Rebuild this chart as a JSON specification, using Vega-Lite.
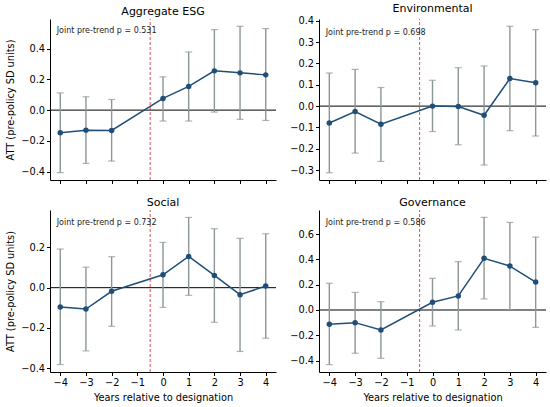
{
  "$schema": "https://vega.github.io/schema/vega-lite/v6.json",
  "padding": {"left": 5, "top": 2, "right": 3, "bottom": 3},
  "datasets": {
    "est": [
      {"panel": "Aggregate ESG", "year": -4, "att": -0.147, "lo": -0.406, "hi": 0.112},
      {"panel": "Aggregate ESG", "year": -3, "att": -0.13, "lo": -0.346, "hi": 0.087},
      {"panel": "Aggregate ESG", "year": -2, "att": -0.132, "lo": -0.331, "hi": 0.069},
      {"panel": "Aggregate ESG", "year": 0, "att": 0.076, "lo": -0.071, "hi": 0.216},
      {"panel": "Aggregate ESG", "year": 1, "att": 0.154, "lo": -0.071, "hi": 0.378},
      {"panel": "Aggregate ESG", "year": 2, "att": 0.255, "lo": -0.013, "hi": 0.523},
      {"panel": "Aggregate ESG", "year": 3, "att": 0.242, "lo": -0.06, "hi": 0.545},
      {"panel": "Aggregate ESG", "year": 4, "att": 0.229, "lo": -0.067, "hi": 0.53},
      {"panel": "Environmental", "year": -4, "att": -0.079, "lo": -0.312, "hi": 0.155},
      {"panel": "Environmental", "year": -3, "att": -0.025, "lo": -0.22, "hi": 0.172},
      {"panel": "Environmental", "year": -2, "att": -0.085, "lo": -0.259, "hi": 0.087},
      {"panel": "Environmental", "year": 0, "att": 0.0, "lo": -0.119, "hi": 0.121},
      {"panel": "Environmental", "year": 1, "att": -0.002, "lo": -0.181, "hi": 0.18},
      {"panel": "Environmental", "year": 2, "att": -0.043, "lo": -0.276, "hi": 0.188},
      {"panel": "Environmental", "year": 3, "att": 0.129, "lo": -0.115, "hi": 0.374},
      {"panel": "Environmental", "year": 4, "att": 0.109, "lo": -0.14, "hi": 0.358},
      {"panel": "Social", "year": -4, "att": -0.096, "lo": -0.382, "hi": 0.192},
      {"panel": "Social", "year": -3, "att": -0.106, "lo": -0.314, "hi": 0.102},
      {"panel": "Social", "year": -2, "att": -0.018, "lo": -0.192, "hi": 0.154},
      {"panel": "Social", "year": 0, "att": 0.064, "lo": -0.098, "hi": 0.225},
      {"panel": "Social", "year": 1, "att": 0.155, "lo": -0.038, "hi": 0.349},
      {"panel": "Social", "year": 2, "att": 0.061, "lo": -0.172, "hi": 0.293},
      {"panel": "Social", "year": 3, "att": -0.035, "lo": -0.317, "hi": 0.245},
      {"panel": "Social", "year": 4, "att": 0.008, "lo": -0.251, "hi": 0.268},
      {"panel": "Governance", "year": -4, "att": -0.113, "lo": -0.432, "hi": 0.211},
      {"panel": "Governance", "year": -3, "att": -0.1, "lo": -0.342, "hi": 0.139},
      {"panel": "Governance", "year": -2, "att": -0.158, "lo": -0.382, "hi": 0.066},
      {"panel": "Governance", "year": 0, "att": 0.061, "lo": -0.126, "hi": 0.25},
      {"panel": "Governance", "year": 1, "att": 0.111, "lo": -0.158, "hi": 0.382},
      {"panel": "Governance", "year": 2, "att": 0.408, "lo": 0.087, "hi": 0.732},
      {"panel": "Governance", "year": 3, "att": 0.347, "lo": 0.003, "hi": 0.692},
      {"panel": "Governance", "year": 4, "att": 0.221, "lo": -0.137, "hi": 0.576}
    ]
  },
  "config": {
    "font": "DejaVu Sans",
    "view": {"stroke": null},
    "axis": {
      "grid": false,
      "domainColor": "#000",
      "tickColor": "#000",
      "tickSize": 3.5,
      "labelFontSize": 9.8,
      "labelColor": "#000",
      "labelPadding": 2,
      "labelOverlap": false,
      "titleFontSize": 9.8,
      "titleFontWeight": "normal",
      "titleColor": "#000"
    },
    "axisX": {"titlePadding": 5},
    "axisY": {"titlePadding": 5.5},
    "title": {"fontSize": 11, "fontWeight": "normal", "color": "#000", "offset": 2, "frame": "group"}
  },
  "spacing": 12,
  "vconcat": [
    {
      "spacing": 12,
      "hconcat": [
        {
          "width": 226, "height": 161,
          "title": {"text": "Aggregate ESG", "frame": "group"},
          "data": {"name": "est"},
          "transform": [{"filter": "datum.panel === 'Aggregate ESG'"}],
          "encoding": {
            "x": {"field": "year", "type": "quantitative", "scale": {"domain": [-4.4, 4.4], "nice": false, "zero": false},
              "axis": {"values": [-4, -3, -2, -1, 0, 1, 2, 3, 4], "labels": false, "title": null}},
            "y": {"field": "att", "type": "quantitative", "scale": {"domain": [-0.454, 0.592], "nice": false, "zero": false},
              "axis": {"values": [-0.4, -0.2, 0, 0.2, 0.4], "format": ".1f", "title": "ATT (pre-policy SD units)"}}
          },
          "layer": [
            {"transform": [{"filter": "datum.year === 0"}],
              "mark": {"type": "rule", "color": "#d9534f", "strokeDash": [3, 2], "strokeWidth": 1},
              "encoding": {"x": {"datum": -0.5, "type": "quantitative"}, "y": {"datum": -0.454, "type": "quantitative"}, "y2": {"datum": 0.592}}},
            {"transform": [{"filter": "datum.year === 0"}],
              "mark": {"type": "rule", "color": "#000", "strokeWidth": 1},
              "encoding": {"x": {"datum": -4.4, "type": "quantitative"}, "x2": {"datum": 4.4}, "y": {"datum": 0, "type": "quantitative"}}},
            {"mark": {"type": "errorbar", "color": "#8c9696", "thickness": 1.4, "ticks": {"size": 7, "thickness": 1.2}},
              "encoding": {"y": {"field": "lo", "type": "quantitative", "title": "ATT (pre-policy SD units)"}, "y2": {"field": "hi"}}},
            {"mark": {"type": "line", "color": "#1f4e79", "strokeWidth": 1.5, "point": {"filled": true, "size": 30, "color": "#1f4e79"}}},
            {"transform": [{"filter": "datum.year === 0"}],
              "mark": {"type": "text", "align": "left", "baseline": "middle", "fontSize": 8, "color": "#222"},
              "encoding": {"x": {"datum": -4.14, "type": "quantitative"}, "y": {"datum": 0.511, "type": "quantitative"}, "text": {"value": "Joint pre-trend p = 0.531"}}}
          ]
        },
        {
          "width": 227, "height": 161,
          "title": {"text": "Environmental", "frame": "group"},
          "data": {"name": "est"},
          "transform": [{"filter": "datum.panel === 'Environmental'"}],
          "encoding": {
            "x": {"field": "year", "type": "quantitative", "scale": {"domain": [-4.4, 4.4], "nice": false, "zero": false},
              "axis": {"values": [-4, -3, -2, -1, 0, 1, 2, 3, 4], "labels": false, "title": null}},
            "y": {"field": "att", "type": "quantitative", "scale": {"domain": [-0.346, 0.408], "nice": false, "zero": false},
              "axis": {"values": [-0.3, -0.2, -0.1, 0, 0.1, 0.2, 0.3, 0.4], "format": ".1f", "title": null}}
          },
          "layer": [
            {"transform": [{"filter": "datum.year === 0"}],
              "mark": {"type": "rule", "color": "#d9534f", "strokeDash": [3, 2], "strokeWidth": 1},
              "encoding": {"x": {"datum": -0.5, "type": "quantitative"}, "y": {"datum": -0.346, "type": "quantitative"}, "y2": {"datum": 0.408}}},
            {"transform": [{"filter": "datum.year === 0"}],
              "mark": {"type": "rule", "color": "#000", "strokeWidth": 1},
              "encoding": {"x": {"datum": -4.4, "type": "quantitative"}, "x2": {"datum": 4.4}, "y": {"datum": 0, "type": "quantitative"}}},
            {"mark": {"type": "errorbar", "color": "#8c9696", "thickness": 1.4, "ticks": {"size": 7, "thickness": 1.2}},
              "encoding": {"y": {"field": "lo", "type": "quantitative", "title": null}, "y2": {"field": "hi"}}},
            {"mark": {"type": "line", "color": "#1f4e79", "strokeWidth": 1.5, "point": {"filled": true, "size": 30, "color": "#1f4e79"}}},
            {"transform": [{"filter": "datum.year === 0"}],
              "mark": {"type": "text", "align": "left", "baseline": "middle", "fontSize": 8, "color": "#222"},
              "encoding": {"x": {"datum": -4.14, "type": "quantitative"}, "y": {"datum": 0.344, "type": "quantitative"}, "text": {"value": "Joint pre-trend p = 0.698"}}}
          ]
        }
      ]
    },
    {
      "spacing": 12,
      "hconcat": [
        {
          "width": 226, "height": 162,
          "title": {"text": "Social", "frame": "group"},
          "data": {"name": "est"},
          "transform": [{"filter": "datum.panel === 'Social'"}],
          "encoding": {
            "x": {"field": "year", "type": "quantitative", "scale": {"domain": [-4.4, 4.4], "nice": false, "zero": false},
              "axis": {"values": [-4, -3, -2, -1, 0, 1, 2, 3, 4], "format": "d", "title": "Years relative to designation"}},
            "y": {"field": "att", "type": "quantitative", "scale": {"domain": [-0.419, 0.386], "nice": false, "zero": false},
              "axis": {"values": [-0.4, -0.2, 0, 0.2], "format": ".1f", "title": "ATT (pre-policy SD units)"}}
          },
          "layer": [
            {"transform": [{"filter": "datum.year === 0"}],
              "mark": {"type": "rule", "color": "#d9534f", "strokeDash": [3, 2], "strokeWidth": 1},
              "encoding": {"x": {"datum": -0.5, "type": "quantitative"}, "y": {"datum": -0.419, "type": "quantitative"}, "y2": {"datum": 0.386}}},
            {"transform": [{"filter": "datum.year === 0"}],
              "mark": {"type": "rule", "color": "#000", "strokeWidth": 1},
              "encoding": {"x": {"datum": -4.4, "type": "quantitative"}, "x2": {"datum": 4.4}, "y": {"datum": 0, "type": "quantitative"}}},
            {"mark": {"type": "errorbar", "color": "#8c9696", "thickness": 1.4, "ticks": {"size": 7, "thickness": 1.2}},
              "encoding": {"y": {"field": "lo", "type": "quantitative", "title": "ATT (pre-policy SD units)"}, "y2": {"field": "hi"}}},
            {"mark": {"type": "line", "color": "#1f4e79", "strokeWidth": 1.5, "point": {"filled": true, "size": 30, "color": "#1f4e79"}}},
            {"transform": [{"filter": "datum.year === 0"}],
              "mark": {"type": "text", "align": "left", "baseline": "middle", "fontSize": 8, "color": "#222"},
              "encoding": {"x": {"datum": -4.14, "type": "quantitative"}, "y": {"datum": 0.319, "type": "quantitative"}, "text": {"value": "Joint pre-trend p = 0.732"}}}
          ]
        },
        {
          "width": 227, "height": 162,
          "title": {"text": "Governance", "frame": "group"},
          "data": {"name": "est"},
          "transform": [{"filter": "datum.panel === 'Governance'"}],
          "encoding": {
            "x": {"field": "year", "type": "quantitative", "scale": {"domain": [-4.4, 4.4], "nice": false, "zero": false},
              "axis": {"values": [-4, -3, -2, -1, 0, 1, 2, 3, 4], "format": "d", "title": "Years relative to designation"}},
            "y": {"field": "att", "type": "quantitative", "scale": {"domain": [-0.49, 0.79], "nice": false, "zero": false},
              "axis": {"values": [-0.4, -0.2, 0, 0.2, 0.4, 0.6], "format": ".1f", "title": null}}
          },
          "layer": [
            {"transform": [{"filter": "datum.year === 0"}],
              "mark": {"type": "rule", "color": "#d9534f", "strokeDash": [3, 2], "strokeWidth": 1},
              "encoding": {"x": {"datum": -0.5, "type": "quantitative"}, "y": {"datum": -0.49, "type": "quantitative"}, "y2": {"datum": 0.79}}},
            {"transform": [{"filter": "datum.year === 0"}],
              "mark": {"type": "rule", "color": "#000", "strokeWidth": 1},
              "encoding": {"x": {"datum": -4.4, "type": "quantitative"}, "x2": {"datum": 4.4}, "y": {"datum": 0, "type": "quantitative"}}},
            {"mark": {"type": "errorbar", "color": "#8c9696", "thickness": 1.4, "ticks": {"size": 7, "thickness": 1.2}},
              "encoding": {"y": {"field": "lo", "type": "quantitative", "title": null}, "y2": {"field": "hi"}}},
            {"mark": {"type": "line", "color": "#1f4e79", "strokeWidth": 1.5, "point": {"filled": true, "size": 30, "color": "#1f4e79"}}},
            {"transform": [{"filter": "datum.year === 0"}],
              "mark": {"type": "text", "align": "left", "baseline": "middle", "fontSize": 8, "color": "#222"},
              "encoding": {"x": {"datum": -4.14, "type": "quantitative"}, "y": {"datum": 0.684, "type": "quantitative"}, "text": {"value": "Joint pre-trend p = 0.586"}}}
          ]
        }
      ]
    }
  ]
}
